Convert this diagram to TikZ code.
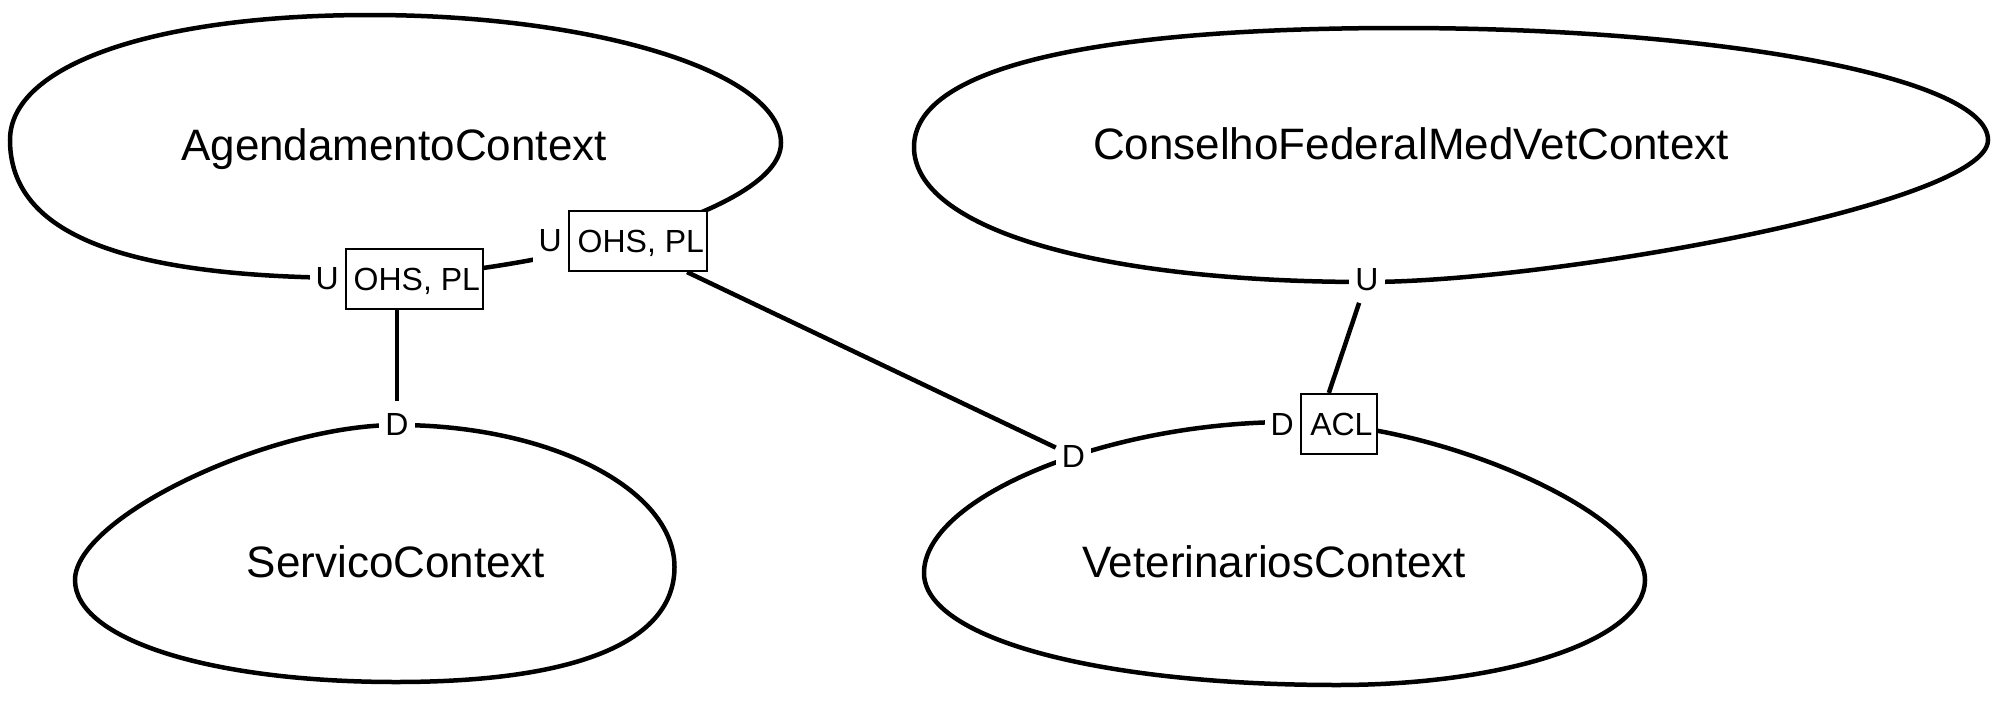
\documentclass[tikz,border=0pt]{standalone}
\usepackage{fontspec}
\setmainfont{Liberation Sans}
\usetikzlibrary{positioning,calc}

\begin{document}
\begin{tikzpicture}
[x=1pt,y=1pt,
ctx/.style={line width=4.5pt},
conn/.style={line width=4.5pt},
ctxname/.style={anchor=base,font=\fontsize{44}{52}\selectfont},
role/.style={fill=white,inner xsep=6pt,inner ysep=12pt,font=\fontsize{32}{38}\selectfont},
patbox/.style={draw,fill=white,line width=2.2pt,minimum height=60pt,inner sep=0pt,font=\fontsize{32}{38}\selectfont,text height=23pt,text depth=0pt},]

\useasboundingbox (0,0) rectangle (2000,-712);

%Drawing the bounded contexts
\draw[ctx] (10,-140) .. controls (10,-65) and (154,-15) .. (370,-15)
  .. controls (596,-15) and (781,-72.6) .. (781,-143)
  .. controls (781,-217) and (507,-278) .. (360,-278)
  .. controls (122,-278) and (10,-233.8) .. (10,-140) -- cycle;
\draw[ctx] (75,-580) .. controls (75,-518) and (268.2,-425) .. (397,-425)
  .. controls (549.6,-425) and (674.5,-488.9) .. (674.5,-567)
  .. controls (674.5,-641.75) and (577,-682) .. (396,-682)
  .. controls (209.8,-682) and (75,-639.2) .. (75,-580) -- cycle;
\draw[ctx] (914,-147) .. controls (914,-69.65) and (1084,-28) .. (1400,-28)
  .. controls (1723.4,-28) and (1988,-78.4) .. (1988,-140)
  .. controls (1988,-203.9) and (1553.3,-282) .. (1367,-282)
  .. controls (1095.2,-282) and (914,-228) .. (914,-147) -- cycle;
\draw[ctx] (924,-573) .. controls (924,-497.5) and (1107,-422) .. (1290,-422)
  .. controls (1439,-422) and (1645,-513.6) .. (1645,-580)
  .. controls (1645,-638.8) and (1509.5,-685) .. (1337,-685)
  .. controls (1097.5,-685) and (924,-638) .. (924,-573) -- cycle;

\node[ctxname] (agenda) at (394,-160) {AgendamentoContext};
\node[ctxname] (servico) at (396,-577) {ServicoContext};
\node[ctxname] (conselho) at (1411,-159) {ConselhoFederalMedVetContext};
\node[ctxname] (veterinarios) at (1274,-577) {VeterinariosContext};

%Relationship boxes
\node[patbox,minimum width=137pt] (ohsA) at (414.5,-279) {\makebox[131pt][r]{OHS, PL}};
\node[patbox,minimum width=138pt] (ohsB) at (638,-241) {\makebox[132pt][r]{OHS, PL}};
\node[patbox,minimum width=76pt] (acl) at (1339,-424) {\makebox[67pt][r]{ACL}};

%Upstream and downstream marks
\node[role,left=0pt of ohsA] (upA) {U};
\node[role,left=0pt of ohsB] (upB) {U};
\node[role,left=0pt of acl] (downV) {D};
\node[role] (downS) at (397,-424) {D};
\node[role] (downW) at (1073.5,-456) {D};
\node[role] (upC) at (1367,-279.5) {U};

%Joining the marks
\draw[conn] (downS |- ohsA.south) -- (downS);
\draw[conn] ($(ohsB.south west)!.85!(ohsB.south east)$) -- (downW);
\draw[conn] (upC) -- ($(acl.north west)!.37!(acl.north east)$);

\end{tikzpicture}
\end{document}
